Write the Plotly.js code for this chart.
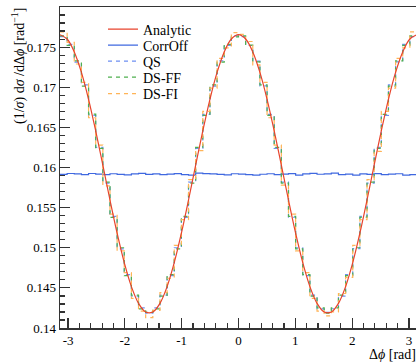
<!DOCTYPE html>
<html>
<head>
<meta charset="utf-8">
<script src="https://cdn.plot.ly/plotly-3.0.1.min.js"></script>
<style>html,body{margin:0;padding:0;overflow:hidden;background:#fff;}</style>
</head>
<body>
<div id="chart"></div>
<script>
// ---- data ----
const nBins = 50;
const phiMin = -Math.PI, phiMax = Math.PI;

const seriesNames = ["Analytic", "CorrOff", "QS", "DS-FF", "DS-FI"];

// Analytic curve sampled at bin edges
const analytic = [0.17655, 0.17601, 0.17440, 0.17185, 0.16850, 0.16456, 0.16029, 0.15595, 0.15181, 0.14814,
  0.14516, 0.14307, 0.14199, 0.14199, 0.14307, 0.14516, 0.14814, 0.15181, 0.15595, 0.16029,
  0.16456, 0.16850, 0.17185, 0.17440, 0.17601, 0.17655, 0.17601, 0.17440, 0.17185, 0.16850,
  0.16456, 0.16029, 0.15595, 0.15181, 0.14814, 0.14516, 0.14307, 0.14199, 0.14199, 0.14307,
  0.14516, 0.14814, 0.15181, 0.15595, 0.16029, 0.16456, 0.16850, 0.17185, 0.17440, 0.17601, 0.17655];

const corrOff = [0.15915, 0.15925, 0.15920, 0.15910, 0.15925, 0.15918, 0.15912, 0.15922, 0.15915, 0.15908,
  0.15920, 0.15926, 0.15914, 0.15920, 0.15910, 0.15918, 0.15924, 0.15912, 0.15906, 0.15930,
  0.15924, 0.15920, 0.15914, 0.15908, 0.15922, 0.15918, 0.15912, 0.15906, 0.15916, 0.15922,
  0.15912, 0.15918, 0.15924, 0.15906, 0.15920, 0.15928, 0.15916, 0.15920, 0.15930, 0.15912,
  0.15918, 0.15906, 0.15920, 0.15914, 0.15924, 0.15910, 0.15918, 0.15922, 0.15906, 0.15912];

const qs = [0.17630, 0.17535, 0.17312, 0.17030, 0.16650, 0.16250, 0.15805, 0.15392, 0.14985, 0.14665,
  0.14398, 0.14250, 0.14185, 0.14250, 0.14410, 0.14652, 0.15000, 0.15378, 0.15818, 0.16238,
  0.16663, 0.17015, 0.17328, 0.17522, 0.17640, 0.17632, 0.17520, 0.17326, 0.17018, 0.16662,
  0.16238, 0.15817, 0.15380, 0.14998, 0.14652, 0.14410, 0.14238, 0.14195, 0.14240, 0.14398,
  0.14665, 0.14988, 0.15390, 0.15805, 0.16250, 0.16650, 0.17030, 0.17315, 0.17535, 0.17630];

const dsFF = [0.17640, 0.17522, 0.17328, 0.17015, 0.16665, 0.16238, 0.15818, 0.15378, 0.15000, 0.14652,
  0.14410, 0.14238, 0.14195, 0.14238, 0.14398, 0.14665, 0.14985, 0.15392, 0.15805, 0.16250,
  0.16650, 0.17030, 0.17312, 0.17535, 0.17628, 0.17642, 0.17525, 0.17315, 0.17030, 0.16650,
  0.16250, 0.15805, 0.15392, 0.14985, 0.14665, 0.14398, 0.14250, 0.14185, 0.14250, 0.14410,
  0.14652, 0.15000, 0.15378, 0.15818, 0.16238, 0.16663, 0.17015, 0.17328, 0.17522, 0.17640];

const dsFI = [0.17690, 0.17560, 0.17290, 0.17060, 0.16620, 0.16280, 0.15770, 0.15420, 0.14960, 0.14690,
  0.14370, 0.14210, 0.14130, 0.14220, 0.14440, 0.14620, 0.15030, 0.15350, 0.15850, 0.16210,
  0.16700, 0.16990, 0.17360, 0.17490, 0.17680, 0.17660, 0.17570, 0.17280, 0.17060, 0.16620,
  0.16280, 0.15780, 0.15420, 0.14960, 0.14690, 0.14370, 0.14210, 0.14150, 0.14200, 0.14430,
  0.14630, 0.15030, 0.15350, 0.15850, 0.16200, 0.16700, 0.16990, 0.17360, 0.17490, 0.17690];

const xTickVals = [-3, -2, -1, 0, 1, 2, 3];
const xTickText = ["-3", "-2", "-1", "0", "1", "2", "3"];
const yTickVals = [0.14, 0.145, 0.15, 0.155, 0.16, 0.165, 0.17, 0.175];
const yTickText = ["0.14", "0.145", "0.15", "0.155", "0.16", "0.165", "0.17", "0.175"];

// ---- build ----
const edges = [];
for (let i = 0; i <= nBins; i++) edges.push(phiMin + (phiMax - phiMin) * i / nBins);
const stepY = v => v.concat([v[v.length - 1]]);

const FONT = "Liberation Serif, Times New Roman, serif";
const colors = {Analytic: "#e8432c", CorrOff: "#3f68e0", QS: "#6d8ff2", "DS-FF": "#4fb04f", "DS-FI": "#ffb457"};

function histTrace(name, vals, dash, legendId) {
  return {
    type: "scatter", mode: "lines", name: name, x: edges, y: stepY(vals),
    line: {shape: "hv", color: colors[name], width: 1.2, dash: dash},
    legend: legendId, hoverinfo: "skip", cliponaxis: true
  };
}

const traces = [
  histTrace("CorrOff", corrOff, "solid", "legend2"),
  histTrace("QS", qs, "4px,4px", "legend3"),
  histTrace("DS-FF", dsFF, "4px,4px", "legend4"),
  histTrace("DS-FI", dsFI, "4px,4px", "legend5"),
  {type: "scatter", mode: "lines", name: "Analytic", x: edges, y: analytic,
   line: {shape: "spline", color: colors.Analytic, width: 1.2}, legend: "legend", hoverinfo: "skip"}
];

// frame: full [-pi, pi] frame would span x = 60..417 px; the window is 416 wide,
// so the plot area stops at 416 and the x range is cut accordingly.
const W = 416, H = 362, L = 60, R = 0, T = 7, B = 34;
const fullW = 357;
const plotH = H - T - B, plotW = W - L - R;
const xMaxShown = phiMin + (phiMax - phiMin) * plotW / fullW;
const px2x = px => (px - L) / plotW;
const py2y = py => (H - B - py) / plotH;

function legendAt(cy) {
  return {x: px2x(103), y: py2y(cy), xanchor: "left", yanchor: "middle",
    bgcolor: "rgba(0,0,0,0)", borderwidth: 0, font: {family: FONT, size: 14, color: "#000"},
    itemwidth: 30, tracegroupgap: 0};
}

const axisCommon = {
  showline: true, linecolor: "#333", linewidth: 1.5,
  ticks: "inside", tickcolor: "#333", ticklen: 10, tickwidth: 1.2,
  showgrid: false, zeroline: false,
  tickfont: {family: FONT, size: 13, color: "#000"}
};

const layout = {
  width: W, height: H,
  margin: {l: L, r: R, t: T, b: B},
  paper_bgcolor: "#fff", plot_bgcolor: "#fff",
  showlegend: true,
  xaxis: Object.assign({}, axisCommon, {
    mirror: true,
    range: [phiMin, xMaxShown], tickmode: "array", tickvals: xTickVals, ticktext: xTickText,
    minor: {ticks: "inside", ticklen: 5, tick0: 0, dtick: 0.2, tickcolor: "#333", tickwidth: 1.2, showgrid: false}
  }),
  yaxis: Object.assign({}, axisCommon, {
    mirror: false,
    range: [0.14, 0.18], tickmode: "array", tickvals: yTickVals, ticktext: yTickText,
    minor: {ticks: "inside", ticklen: 5, tick0: 0.14, dtick: 0.001, tickcolor: "#333", tickwidth: 1.2, showgrid: false}
  }),
  legend: legendAt(29.5),
  legend2: legendAt(45.5),
  legend3: legendAt(61.5),
  legend4: legendAt(77.5),
  legend5: legendAt(94),
  annotations: [
    {text: "(1/<i>σ</i>) d<i>σ</i> /dΔ<i>ϕ</i> [rad<sup>−1</sup>]", xref: "paper", yref: "paper",
     x: px2x(18), y: py2y(6), xanchor: "center", yanchor: "top", textangle: -90, showarrow: false,
     font: {family: FONT, size: 14, color: "#000"}},
    {text: "Δ<i>ϕ</i> [rad]", xref: "paper", yref: "paper",
     x: px2x(418), y: py2y(354), xanchor: "right", yanchor: "middle", showarrow: false,
     font: {family: FONT, size: 14, color: "#000"}}
  ]
};

Plotly.newPlot("chart", traces, layout, {staticPlot: true, displayModeBar: false});
</script>
</body>
</html>
